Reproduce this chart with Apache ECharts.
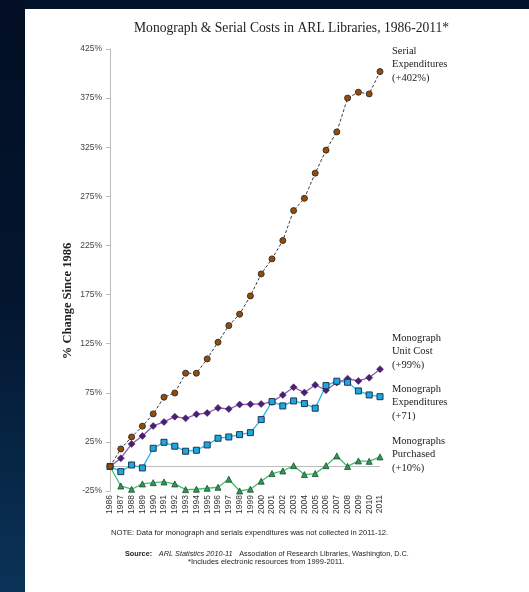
<!DOCTYPE html>
<html>
<head>
<meta charset="utf-8">
<script src="https://cdn.jsdelivr.net/npm/echarts@6/dist/echarts.min.js"></script>
<style>
html,body{margin:0;padding:0;width:529px;height:592px;overflow:hidden;background:#02112a;}
#left{position:absolute;left:0;top:0;width:25px;height:592px;background:linear-gradient(to bottom,#020f24 0%,#03152e 50%,#0a3358 100%);}
#page{position:absolute;left:25px;top:9px;right:0;bottom:0;background:#ffffff;}
#chart{position:absolute;left:0;top:0;width:529px;height:592px;}
</style>
</head>
<body>
<div id="left"></div>
<div id="page"></div>
<div id="chart"></div>
<script>
const years = ['1986','1987','1988','1989','1990','1991','1992','1993','1994','1995','1996','1997','1998','1999','2000','2001','2002','2003','2004','2005','2006','2007','2008','2009','2010','2011'];
const serialExpenditures = [0,17.8,30,41,53.5,70.5,74.8,94.9,94.9,109.5,126.5,143.4,155,173.6,196,211.3,230,260.5,273,298.6,322,340.6,375,381,379.3,402];
const monographUnitCost = [0,8.3,22.9,31,41.2,45.3,50.7,49,53.1,54.4,59.6,58.5,63,63.3,63.6,65.7,72.8,80.6,75.2,83,77.6,85.4,89.4,87,90.4,99];
const monographExpenditures = [0,-5.3,1.5,-1.5,18.5,24.6,20.6,15.5,16.5,21.9,28.7,30,32.4,34.4,47.7,66,61.6,66.7,64,59.3,82.3,86.8,85.7,76.9,72.8,71];
const monographsPurchased = [0,-19.9,-23.2,-17.8,-16.5,-15.8,-17.8,-23.6,-23.2,-22.2,-21.2,-13,-25,-23.2,-15,-7.3,-4.6,0.8,-8.3,-7.3,0.8,10.7,0,5.6,5.2,9.7];
const yTicks = [-25,25,75,125,175,225,275,325,375,425];
const seriesNames = ['Serial\nExpenditures\n(+402%)','Monograph\nUnit Cost\n(+99%)','Monograph\nExpenditures\n(+71)','Monographs\nPurchased\n(+10%)'];

const chart = echarts.init(document.getElementById('chart'), null, {renderer:'canvas'});
const serif = '"Liberation Serif","DejaVu Serif",serif';
const sans = '"Liberation Sans","DejaVu Sans",sans-serif';
function endLbl(text, dy){
  return {show:true, formatter:text, fontFamily:serif, fontSize:10.5, lineHeight:13.5, color:'#222', align:'left', verticalAlign:'middle', distance:12, offset:[0,dy]};
}
chart.setOption({
  animation:false,
  backgroundColor:'transparent',
  title:{text:'Monograph & Serial Costs in ARL Libraries, 1986-2011*', left:129, top:16, textStyle:{fontFamily:serif, fontSize:13.6, fontWeight:'normal', color:'#222'}},
  grid:{left:110, right:149, top:49, bottom:101},
  xAxis:{type:'category', data:years, boundaryGap:false, position:'bottom',
     axisLine:{show:false}, axisTick:{show:false},
     axisLabel:{rotate:90, fontFamily:sans, fontSize:8.5, color:'#333', margin:4, interval:0}},
  yAxis:{type:'value', min:-25, max:425,
    axisLine:{show:true, lineStyle:{color:'#bdbdbd', width:1}},
    axisTick:{show:true, length:4, lineStyle:{color:'#bdbdbd'}, customValues:yTicks},
    axisLabel:{fontFamily:sans, fontSize:8.5, color:'#444', margin:8, customValues:yTicks, formatter:v=>v+'%'},
    splitLine:{show:false}},
  series:[
    {name:'Serial', type:'line', data:serialExpenditures, symbol:'circle', symbolSize:6,
     lineStyle:{color:'#3a3a3a', width:1, type:[3,2]},
     itemStyle:{color:'#9a4a05', borderColor:'#333', borderWidth:1},
     endLabel:endLbl(seriesNames[0], -7), z:4},
    {name:'Unit Cost', type:'line', data:monographUnitCost, symbol:'diamond', symbolSize:7,
     lineStyle:{color:'#8a5cb8', width:1.3},
     itemStyle:{color:'#4d1f73', borderColor:'#3a1858', borderWidth:0.5},
     endLabel:endLbl(seriesNames[1], -17.5), z:3},
    {name:'Mon Exp', type:'line', data:monographExpenditures, symbol:'rect', symbolSize:6,
     lineStyle:{color:'#2cb6ea', width:1.3},
     itemStyle:{color:'#1ea8e0', borderColor:'#1c3550', borderWidth:1},
     endLabel:endLbl(seriesNames[2], 6), z:3},
    {name:'Purchased', type:'line', data:monographsPurchased, symbol:'triangle', symbolSize:6,
     lineStyle:{color:'#3cc274', width:1.3},
     itemStyle:{color:'#2e9a55', borderColor:'#1d4a2c', borderWidth:0.8},
     endLabel:endLbl(seriesNames[3], -2.5), z:3,
     markLine:{silent:true, symbol:'none', label:{show:false}, lineStyle:{color:'#bdbdbd', width:1, type:'solid'}, data:[{yAxis:0}], z:1}}
  ],
  graphic:[
    {type:'text', x:68, y:301, rotation:Math.PI/2, style:{text:'% Change Since 1986', fontFamily:serif, fontSize:12.5, fontWeight:'bold', fill:'#222', align:'center', verticalAlign:'middle'}},
    {type:'text', left:111, top:529, style:{text:'NOTE: Data for monograph and serials expenditures was not collected in 2011-12.', fontFamily:sans, fontSize:7.6, fill:'#222'}},
    {type:'text', top:548, left:125, style:{rich:{b:{fontWeight:'bold',fontFamily:sans,fontSize:7.3,fill:'#222'},i:{fontStyle:'italic',fontFamily:sans,fontSize:7.3,fill:'#222'},n:{fontFamily:sans,fontSize:7.3,fill:'#222'}}, text:'{b|Source:}  {i|ARL Statistics 2010-11}  {n|Association of Research Libraries, Washington, D.C.}'}},
    {type:'text', top:558, left:188, style:{text:'*Includes electronic resources from 1999-2011.', fontFamily:sans, fontSize:7.5, fill:'#222'}}
  ]
});
</script>
</body>
</html>
